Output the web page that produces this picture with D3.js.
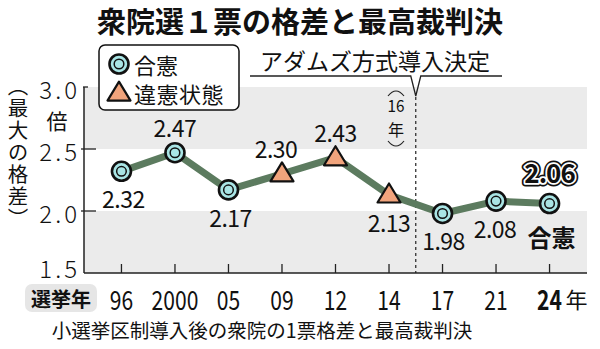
<!DOCTYPE html>
<html><head><meta charset="utf-8">
<script src="https://cdn.jsdelivr.net/npm/d3@7"></script>
<style>
html,body{margin:0;padding:0;background:#fff;}
text{font-family:"Noto Sans CJK JP","Noto Sans",sans-serif;fill:#111;}
</style></head>
<body>
<svg id="c" width="600" height="349"></svg>
<script>
const years = ["96","2000","05","09","12","14","17","21","24"];
const gaps = [2.32,2.47,2.17,2.30,2.43,2.13,1.98,2.08,2.06];
const rulings = ["合憲","合憲","合憲","違憲状態","違憲状態","違憲状態","合憲","合憲","合憲"];
const yTicks = [1.5,2.0,2.5,3.0];
const yTickLabels = ["1.5","2.0","2.5","3.0"];

const svg = d3.select("#c");
const L = 84, R = 587, T = 87, B = 273;
const x = d3.scalePoint().domain(years).range([L, R]).padding(0.7);
const y = d3.scaleLinear().domain([1.5, 3.0]).range([B, T]);

// title
svg.append("text").attr("x", 300).attr("y", 33).attr("text-anchor", "middle")
  .attr("font-size", 29).attr("font-weight", "bold").text("衆院選１票の格差と最高裁判決");

// bands
[[2.5,3.0],[1.5,2.0]].forEach(([a,b]) => {
  svg.append("rect").attr("x", L).attr("y", y(b)).attr("width", R - L).attr("height", y(a) - y(b)).attr("fill", "#ebebeb");
});

// axes lines
svg.append("line").attr("x1", L).attr("x2", L).attr("y1", y(3.0)).attr("y2", B).attr("stroke", "#222").attr("stroke-width", 1.5);
svg.append("line").attr("x1", L).attr("x2", R).attr("y1", B).attr("y2", B).attr("stroke", "#222").attr("stroke-width", 1.5);
yTicks.forEach((v, i) => {
  if (v === 1.5) return;
  const x1 = v === 3.0 ? L - 1 : L - 3, x2 = v === 3.0 ? L + 4 : L + 12;
  svg.append("line").attr("x1", x1).attr("x2", x2).attr("y1", y(v)).attr("y2", y(v)).attr("stroke", "#222").attr("stroke-width", 1.3);
  });
yTicks.forEach((v, i) => {
  const yy = v === 1.5 ? y(v) - 6 : y(v) + 1;
  svg.append("text").attr("x", 80).attr("y", yy).attr("text-anchor", "end").attr("dominant-baseline", "central")
    .attr("font-size", 24).attr("letter-spacing", 3).attr("font-weight", 300).text(yTickLabels[i]);
});
// x ticks
years.forEach(d => {
  svg.append("line").attr("x1", x(d)).attr("x2", x(d)).attr("y1", B - 9).attr("y2", B).attr("stroke", "#222").attr("stroke-width", 1.3);
});

// unit & y label
svg.append("text").attr("x", 57).attr("y", 120).attr("text-anchor", "middle").attr("dominant-baseline", "central").attr("font-size", 21).text("倍");
svg.append("text").attr("x", 18).attr("y", 76).attr("font-size", 20.5).style("writing-mode", "vertical-rl")
  .attr("letter-spacing", 1.5).text("（最大の格差）");

// adams annotation
const xm = (x("14") + x("17")) / 2;
svg.append("text").attr("x", 375).attr("y", 60).attr("text-anchor", "middle").attr("dominant-baseline", "central")
  .attr("font-size", 23).text("アダムズ方式導入決定");
svg.append("path").attr("d", `M250,76 H${xm - 5} L${xm},96 L${xm + 5},76 H502`).attr("fill", "none").attr("stroke", "#222").attr("stroke-width", 1.3);
svg.append("line").attr("x1", xm).attr("x2", xm).attr("y1", 97).attr("y2", B).attr("stroke", "#222").attr("stroke-width", 1.2).attr("stroke-dasharray", "3,3");
const px = 396;
svg.append("path").attr("d", `M${px - 8},96 Q${px},86 ${px + 8},96`).attr("fill", "none").attr("stroke", "#222").attr("stroke-width", 1.2);
svg.append("text").attr("transform", `translate(${px},105) scale(0.9,1)`).attr("text-anchor", "middle").attr("dominant-baseline", "central")
  .attr("font-size", 17).text("16");
svg.append("text").attr("x", px).attr("y", 129).attr("text-anchor", "middle").attr("dominant-baseline", "central").attr("font-size", 16).text("年");
svg.append("path").attr("d", `M${px - 8},141 Q${px},151 ${px + 8},141`).attr("fill", "none").attr("stroke", "#222").attr("stroke-width", 1.2);

// line
const line = d3.line().x((d, i) => x(years[i])).y(d => y(d));
svg.append("path").datum(gaps).attr("d", line).attr("fill", "none").attr("stroke", "#5c7b5f").attr("stroke-width", 7).attr("stroke-linejoin", "round");

const CYAN = "#a9e5e5", ORANGE = "#f1a47c";
function drawCircle(g, cx, cy) {
  g.append("circle").attr("cx", cx).attr("cy", cy).attr("r", 9.5).attr("fill", CYAN).attr("stroke", "#111").attr("stroke-width", 2.6);
  g.append("circle").attr("cx", cx).attr("cy", cy).attr("r", 4.8).attr("fill", CYAN).attr("stroke", "#111").attr("stroke-width", 1.5);
}
function drawTri(g, cx, cy) {
  const h = 19, w = 23;
  g.append("path").attr("d", `M${cx},${cy - h * 0.6} L${cx + w / 2},${cy + h * 0.4} L${cx - w / 2},${cy + h * 0.4} Z`)
    .attr("fill", ORANGE).attr("stroke", "#111").attr("stroke-width", 2.2).attr("stroke-linejoin", "round");
}
const marks = svg.append("g");
gaps.forEach((v, i) => {
  if (rulings[i] === "合憲") drawCircle(marks, x(years[i]), y(v));
  else drawTri(marks, x(years[i]), y(v));
});

// value labels
const above = [false, true, false, true, true, false, false, false, true];
const dx = [2, 0, 2, -6, 0, 0, 1, -1, 0];
gaps.forEach((v, i) => {
  const last = i === gaps.length - 1;
  const tx = x(years[i]) + dx[i];
  const ty = y(v) + (above[i] ? (last ? -32 : -26) : 27);
  const lbl = v.toFixed(2);
  if (last) {
    const base = svg.append("g");
    [["#111", 7], ["#fff", 3.5]].forEach(([c, w]) => {
      base.append("text").attr("x", tx).attr("y", ty).attr("text-anchor", "middle").attr("dominant-baseline", "central")
        .attr("font-size", 26).attr("font-weight", "bold").attr("letter-spacing", -1)
        .style("fill", c).attr("stroke", c).attr("stroke-width", w).attr("stroke-linejoin", "round").text(lbl);
    });
    base.append("text").attr("x", tx).attr("y", ty).attr("text-anchor", "middle").attr("dominant-baseline", "central")
      .attr("font-size", 26).attr("font-weight", "bold").attr("letter-spacing", -1).text(lbl);
    svg.append("text").attr("x", tx + 2).attr("y", y(v) + 33).attr("text-anchor", "middle").attr("dominant-baseline", "central")
      .attr("font-size", 24).attr("font-weight", "bold").text(rulings[i]);
  } else {
    svg.append("text").attr("x", tx).attr("y", ty).attr("text-anchor", "middle").attr("dominant-baseline", "central")
      .attr("font-size", 23).attr("letter-spacing", -0.5).text(lbl);
  }
});

// legend
const lg = svg.append("g");
lg.append("rect").attr("x", 99).attr("y", 45).attr("width", 140).attr("height", 65).attr("rx", 6)
  .attr("fill", "#fff").attr("stroke", "#111").attr("stroke-width", 1.5);
drawCircle(lg, 119, 64);
drawTri(lg, 119, 93);
lg.append("text").attr("x", 134).attr("y", 64).attr("dominant-baseline", "central").attr("font-size", 22).text("合憲");
lg.append("text").attr("x", 134).attr("y", 93).attr("dominant-baseline", "central").attr("font-size", 22).attr("letter-spacing", 0.5).text("違憲状態");

// x labels
svg.append("rect").attr("x", 25).attr("y", 284).attr("width", 72).attr("height", 28).attr("rx", 7).attr("fill", "#e6e6e6");
svg.append("text").attr("x", 61).attr("y", 298).attr("text-anchor", "middle").attr("dominant-baseline", "central").attr("font-size", 20).attr("font-weight", "bold").text("選挙年");
years.forEach((d, i) => {
  const last = i === years.length - 1;
  svg.append("text").attr("transform", `translate(${x(d)},298) scale(0.78,1)`)
    .attr("text-anchor", "middle").attr("dominant-baseline", "central")
    .attr("font-size", 27).attr("font-weight", last ? "bold" : "normal").text(d);
});
svg.append("text").attr("x", x("24") + 16).attr("y", 298).attr("dominant-baseline", "central").attr("font-size", 22).text("年");

// caption
svg.append("text").attr("x", 262).attr("y", 329).attr("text-anchor", "middle").attr("dominant-baseline", "central")
  .attr("font-size", 19.5).text("小選挙区制導入後の衆院の1票格差と最高裁判決");
</script>
</body></html>
